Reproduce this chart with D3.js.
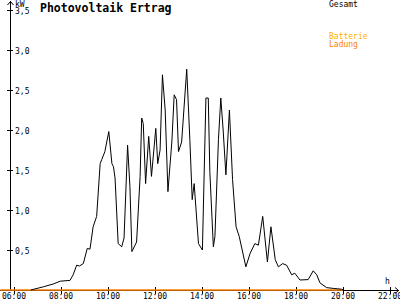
<!DOCTYPE html>
<html>
<head>
<meta charset="utf-8">
<script src="https://cdn.jsdelivr.net/npm/d3@7"></script>
<style>
body{margin:0;background:#fff;}
text{font-family:"DejaVu Sans Mono",monospace;}
</style>
</head>
<body>
<div id="chart"></div>
<script>
// Messzeiten (hh:mm) und Leistung in kW
var zeiten = ["06:43","07:15","07:40","07:58","08:23","08:31","08:40","08:47","08:57","09:07",
  "09:14","09:22","09:31","09:40","09:44","09:52","10:02","10:10","10:14","10:18",
  "10:26","10:35","10:41","10:50","10:56","11:01","11:13","11:22","11:26","11:30",
  "11:36","11:44","11:51","12:02","12:07","12:13","12:19","12:26","12:33","12:43",
  "12:49","12:55","13:00","13:08","13:21","13:29","13:35","13:40","13:51","14:01",
  "14:10","14:16","14:20","14:29","14:33","14:42","14:48","14:54","15:01","15:10",
  "15:18","15:27","15:35","15:52","16:03","16:15","16:24","16:35","16:47","16:56",
  "17:07","17:15","17:26","17:36","17:49","17:57","18:10","18:31","18:44","18:53",
  "19:01","19:18","19:35","19:56","20:00"];
var gesamt = [0.00,0.04,0.075,0.11,0.12,0.19,0.31,0.30,0.33,0.52,
  0.51,0.79,0.92,1.58,1.63,1.73,1.98,1.58,1.54,1.40,
  0.58,0.54,0.65,1.81,1.29,0.48,0.60,1.42,2.15,2.08,
  1.33,1.92,1.42,2.02,1.58,1.75,2.69,2.25,1.23,1.85,
  2.44,2.38,1.73,1.85,2.76,1.88,1.13,1.33,0.58,0.50,
  2.40,2.40,1.48,0.54,0.67,1.88,2.40,2.00,1.44,2.25,
  1.38,0.79,0.67,0.29,0.46,0.58,0.56,0.92,0.35,0.79,
  0.38,0.29,0.33,0.31,0.19,0.21,0.125,0.13,0.24,0.19,
  0.09,0.03,0.02,0.01,0];
var ladungZeiten = ["05:25","20:00"];
var ladung = [0,0];
var yTicks = [0.5,1.0,1.5,2.0,2.5,3.0,3.5];
var xTicks = [6,8,10,12,14,16,18,20,22];

var svg = d3.select("#chart").append("svg")
  .attr("width",400).attr("height",300);

function stunden(s){ var p=s.split(":"); return +p[0] + p[1]/60; }

var x = d3.scaleLinear().domain([6,22]).range([14,390]);
var y = d3.scaleLinear().domain([0,3.5]).range([290,10]);

// Achsen
svg.append("line").attr("x1",10.5).attr("x2",10.5).attr("y1",290).attr("y2",1)
  .attr("stroke","#000").attr("shape-rendering","crispEdges");
svg.append("path").attr("d","M7.5,5L10.5,1.5L13.5,5").attr("fill","none").attr("stroke","#000");
svg.append("line").attr("x1",0).attr("x2",399).attr("y1",290.5).attr("y2",290.5)
  .attr("stroke","#000").attr("shape-rendering","crispEdges");
svg.append("path").attr("d","M395,287.5L398.5,290.5L395,293.5").attr("fill","none").attr("stroke","#000");

yTicks.forEach(function(t){
  svg.append("line").attr("x1",7).attr("x2",13).attr("y1",Math.round(y(t))+0.5).attr("y2",Math.round(y(t))+0.5)
    .attr("stroke","#000").attr("shape-rendering","crispEdges");
  svg.append("text").attr("x",15).attr("y",Math.round(y(t))+3.5)
    .attr("font-size","8px").text(d3.format(".1f")(t).replace(".",","));
});
svg.append("text").attr("x",15).attr("y",7).attr("font-size","8px").text("kW");

xTicks.forEach(function(t){
  svg.append("line").attr("x1",Math.round(x(t))+0.5).attr("x2",Math.round(x(t))+0.5).attr("y1",287).attr("y2",294)
    .attr("stroke","#000").attr("shape-rendering","crispEdges");
  svg.append("text").attr("x",x(t)).attr("y",299).attr("text-anchor","middle")
    .attr("font-size","8px").text(d3.format("02")(t)+":00");
});
svg.append("text").attr("x",385).attr("y",284).attr("font-size","8px").text("h");

// Serien
var linie = d3.line().x(function(d){return x(d[0]);}).y(function(d){return y(d[1]);});
svg.append("path")
  .attr("d",linie(ladungZeiten.map(function(z,i){return [stunden(z),ladung[i]];})))
  .attr("fill","none").attr("stroke","#ff8000").attr("stroke-width",1.5);
svg.append("path")
  .attr("d",linie(zeiten.map(function(z,i){return [stunden(z),gesamt[i]];})))
  .attr("fill","none").attr("stroke","#000").attr("stroke-width",1);

// Titel und Legende
svg.append("text").attr("x",40).attr("y",12).attr("font-size","11.5px").attr("font-weight","bold")
  .text("Photovoltaik Ertrag");
svg.append("text").attr("x",329).attr("y",7).attr("font-size","8px").attr("fill","#000").text("Gesamt");
svg.append("text").attr("x",329).attr("y",39).attr("font-size","8px").attr("fill","#ffb000").text("Batterie");
svg.append("text").attr("x",329).attr("y",47).attr("font-size","8px").attr("fill","#ff8000").text("Ladung");
</script>
</body>
</html>
